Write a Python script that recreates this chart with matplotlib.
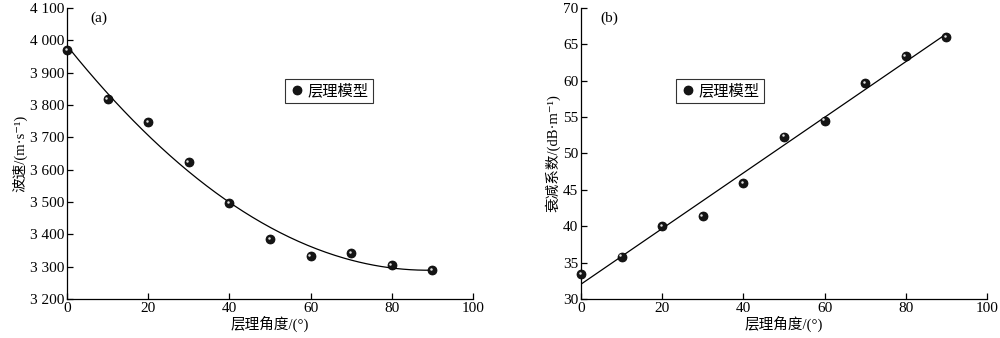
import matplotlib
matplotlib.use('Agg')
import matplotlib.pyplot as plt
import matplotlib.transforms as mtransforms
import numpy as np

plt.rcParams['font.family'] = ['Liberation Serif', 'Noto Sans CJK SC', 'DejaVu Sans']
plt.rcParams['font.size'] = 10

angle = [0, 10, 20, 30, 40, 50, 60, 70, 80, 90]
velocity = [3970, 3818, 3747, 3623, 3496, 3385, 3332, 3342, 3305, 3289]
attenuation = [33.4, 35.8, 40.0, 41.4, 45.9, 52.3, 54.5, 59.7, 63.4, 66.0]

x_fit = np.linspace(0, 90, 200)
v_fit = np.polyval(np.polyfit(angle, velocity, 2), x_fit)
a_fit = np.polyval(np.polyfit(angle, attenuation, 1), x_fit)

fig = plt.figure(figsize=(10, 3.38), dpi=100)
ax1 = fig.add_axes([0.067, 0.1154, 0.406, 0.861])
ax2 = fig.add_axes([0.581, 0.1154, 0.406, 0.861])


def style(ax):
    for s in ['top', 'right']:
        ax.spines[s].set_visible(False)
    for s in ['left', 'bottom']:
        ax.spines[s].set_linewidth(0.9)
    ax.tick_params(direction='in', length=4, width=0.9, labelsize=11, pad=2)
    ax.set_xlim(0, 100)
    ax.set_xticks([0, 20, 40, 60, 80, 100])
    ax.set_xlabel('层理角度/(°)', fontsize=10.5, labelpad=1)


def balls(ax, y):
    ax.plot(angle, y, 'o', ms=6.5, mfc='#151515', mec='black', mew=0.5,
            label='层理模型', zorder=3, clip_on=False)
    # small highlight to give the sphere look
    shift = mtransforms.offset_copy(ax.transData, fig=fig, x=-1.0, y=1.0, units='points')
    ax.plot(angle, y, 'o', ms=1.8, mfc='#e0e0e0', mec='none', transform=shift,
            zorder=4, clip_on=False)


def legend(ax, xc):
    h, l = ax.get_legend_handles_labels()
    leg = ax.legend(h[:1], l[:1], loc='center', bbox_to_anchor=(xc, 0.715), frameon=True,
                    fancybox=False, edgecolor='black', handletextpad=0.2, borderpad=0.3,
                    handlelength=1.0, fontsize=11)
    leg.get_frame().set_linewidth(0.8)


# (a) velocity
style(ax1)
ax1.plot(x_fit, v_fit, color='black', lw=0.9)
balls(ax1, velocity)
ax1.set_ylim(3200, 4100)
yt = np.arange(3200, 4101, 100)
ax1.set_yticks(yt)
ax1.set_yticklabels([f'{v // 1000} {v % 1000:03d}' for v in yt])
ax1.set_ylabel('波速/(m·s⁻¹)', fontsize=10.5, labelpad=2)
ax1.text(0.057, 0.966, '(a)', transform=ax1.transAxes, va='center', fontsize=11)
legend(ax1, 0.645)

# (b) attenuation
style(ax2)
ax2.plot(x_fit, a_fit, color='black', lw=0.9)
balls(ax2, attenuation)
ax2.set_ylim(30, 70)
ax2.set_yticks(np.arange(30, 71, 5))
ax2.set_ylabel('衰减系数/(dB·m⁻¹)', fontsize=10.5, labelpad=2)
ax2.text(0.047, 0.966, '(b)', transform=ax2.transAxes, va='center', fontsize=11)
legend(ax2, 0.342)

plt.savefig('out.png', dpi=100)
